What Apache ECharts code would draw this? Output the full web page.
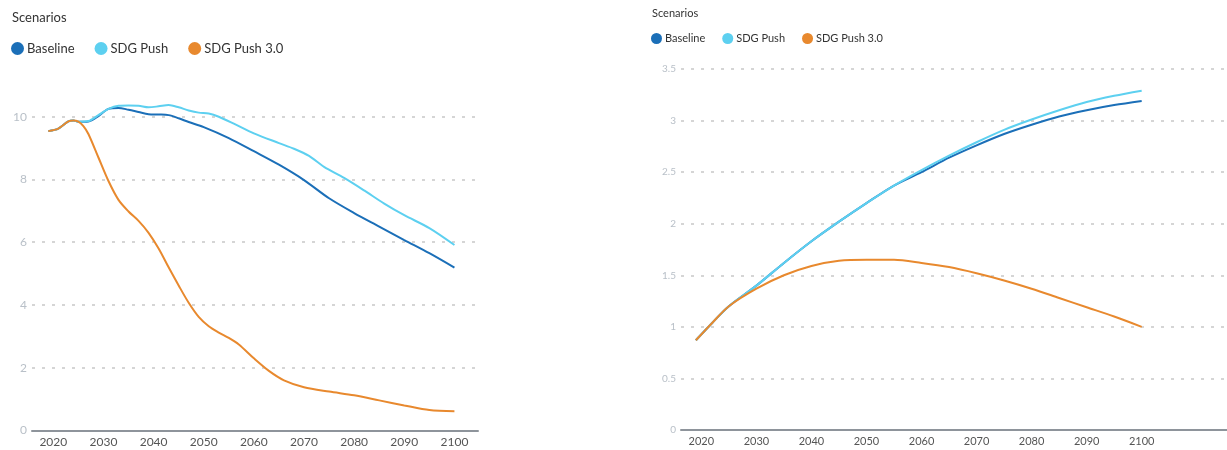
<!DOCTYPE html>
<html>
<head>
<meta charset="utf-8">
<script src="https://cdn.jsdelivr.net/npm/echarts@6/dist/echarts.min.js"></script>
<style>html,body{margin:0;padding:0;background:#fff}#c{width:1227px;height:450px}</style>
</head>
<body>
<div id="c"></div>
<script>
var seriesNames = ['Baseline', 'SDG Push', 'SDG Push 3.0'];
var xTickLabels = [2020, 2030, 2040, 2050, 2060, 2070, 2080, 2090, 2100];

// Left chart
var leftBaselineYears = [2019, 2021, 2023, 2024, 2025, 2027, 2029, 2031, 2033, 2035, 2037, 2039, 2041, 2043, 2045, 2047, 2050, 2055, 2060, 2065, 2070, 2075, 2080, 2085, 2090, 2095, 2100];
var leftBaseline = [9.54, 9.62, 9.85, 9.88, 9.84, 9.85, 10.02, 10.25, 10.28, 10.22, 10.15, 10.08, 10.07, 10.05, 9.95, 9.83, 9.67, 9.32, 8.9, 8.47, 7.98, 7.4, 6.93, 6.5, 6.07, 5.65, 5.19];
var leftSdgYears = [2019, 2021, 2023, 2024, 2025, 2027, 2029, 2031, 2033, 2035, 2037, 2039, 2041, 2043, 2045, 2047, 2049, 2051, 2053, 2056, 2060, 2065, 2068, 2071, 2074, 2078, 2082, 2086, 2090, 2095, 2100];
var leftSdg = [9.54, 9.62, 9.85, 9.88, 9.84, 9.86, 10.05, 10.25, 10.35, 10.36, 10.35, 10.3, 10.33, 10.37, 10.3, 10.2, 10.13, 10.1, 10.0, 9.78, 9.47, 9.16, 8.98, 8.75, 8.4, 8.05, 7.65, 7.23, 6.86, 6.45, 5.91];
var leftSdg3Years = [2019, 2021, 2023, 2024, 2025, 2026, 2027, 2029, 2031, 2033, 2035, 2037, 2039, 2041, 2043, 2045, 2047, 2049, 2051, 2053, 2055, 2057, 2060, 2063, 2066, 2070, 2075, 2080, 2085, 2090, 2095, 2100];
var leftSdg3 = [9.54, 9.62, 9.85, 9.88, 9.84, 9.7, 9.45, 8.7, 7.95, 7.35, 6.98, 6.68, 6.3, 5.8, 5.2, 4.62, 4.07, 3.62, 3.32, 3.12, 2.95, 2.74, 2.3, 1.9, 1.6, 1.38, 1.24, 1.12, 0.96, 0.8, 0.65, 0.61];
var leftYTicks = [0, 2, 4, 6, 8, 10];

// Right chart
var rightYears = [2019, 2022, 2025, 2030, 2035, 2040, 2045, 2050, 2055, 2060, 2065, 2070, 2075, 2080, 2085, 2090, 2095, 2100];
var rightBaseline = [0.87, 1.04, 1.2, 1.4, 1.62, 1.83, 2.02, 2.2, 2.37, 2.5, 2.64, 2.76, 2.87, 2.96, 3.04, 3.1, 3.15, 3.19];
var rightSdg = [0.87, 1.04, 1.2, 1.4, 1.62, 1.83, 2.02, 2.2, 2.37, 2.52, 2.66, 2.79, 2.91, 3.01, 3.1, 3.18, 3.24, 3.29];
var rightSdg3 = [0.87, 1.04, 1.2, 1.37, 1.5, 1.59, 1.64, 1.65, 1.65, 1.62, 1.58, 1.52, 1.45, 1.37, 1.28, 1.19, 1.1, 1.0];

var colors = ['#1b6fb8', '#5dd0f0', '#e8892e'];

function pairs(xs, ys) { return xs.map(function (x, i) { return [x, ys[i]]; }); }

var chart = echarts.init(document.getElementById('c'), null, { renderer: 'canvas' });
var font = 'Lato, "Open Sans", sans-serif';

function xAxis(gi, min, max, fs) {
  return {
    type: 'value', gridIndex: gi, min: min, max: max,
    axisLine: { show: true, onZero: false, lineStyle: { color: '#8e949b', width: 2 } },
    axisTick: { show: false },
    splitLine: { show: false },
    axisLabel: { customValues: xTickLabels, formatter: function (v) { return String(Math.round(v)); },
      color: '#555', fontSize: fs, fontFamily: font, margin: 6 }
  };
}
function yAxis(gi, max, interval, fs) {
  return {
    type: 'value', gridIndex: gi, min: 0, max: max, interval: interval,
    axisLine: { show: false }, axisTick: { show: false },
    axisLabel: { color: '#b9c0c8', fontSize: fs, fontFamily: font, margin: 5 },
    splitLine: { show: true, lineStyle: { color: '#c8c8c8', type: [3, 7], width: 1.5 } }
  };
}
function line(name, gi, data, ci) {
  return {
    name: name, type: 'line', xAxisIndex: gi, yAxisIndex: gi, data: data,
    smooth: 0.3, showSymbol: false, symbol: 'none', clip: false,
    lineStyle: { color: colors[ci], width: 2 }, itemStyle: { color: colors[ci] }
  };
}

chart.setOption({
  animation: false,
  color: colors,
  title: [
    { text: 'Scenarios', left: 7, top: 6, textStyle: { fontSize: 13, fontWeight: 'normal', color: '#333', fontFamily: font } },
    { text: 'Scenarios', left: 647, top: 3, textStyle: { fontSize: 11, fontWeight: 'normal', color: '#333', fontFamily: font } }
  ],
  legend: [
    { data: seriesNames, left: 6, top: 37, icon: 'circle', itemWidth: 13, itemHeight: 13, itemGap: 20,
      textStyle: { fontSize: 13, color: '#333', fontFamily: font, padding: [0, 0, 0, -2] } },
    { data: seriesNames, left: 646, top: 28, icon: 'circle', itemWidth: 11, itemHeight: 11, itemGap: 17,
      textStyle: { fontSize: 11, color: '#333', fontFamily: font, padding: [0, 0, 0, -2] } }
  ],
  grid: [
    { left: 32, right: 749, top: 116.7, bottom: 19.5 },
    { left: 681, right: 0, top: 69, bottom: 20 }
  ],
  xAxis: [ xAxis(0, 2015.75, 2104.7, 12), xAxis(1, 2016.3, 2115.5, 11) ],
  yAxis: [ yAxis(0, leftYTicks[leftYTicks.length - 1], 2, 12), yAxis(1, 3.5, 0.5, 10) ],
  series: [
    line(seriesNames[0], 0, pairs(leftBaselineYears, leftBaseline), 0),
    line(seriesNames[1], 0, pairs(leftSdgYears, leftSdg), 1),
    line(seriesNames[2], 0, pairs(leftSdg3Years, leftSdg3), 2),
    line(seriesNames[0], 1, pairs(rightYears, rightBaseline), 0),
    line(seriesNames[1], 1, pairs(rightYears, rightSdg), 1),
    line(seriesNames[2], 1, pairs(rightYears, rightSdg3), 2)
  ]
});
</script>
</body>
</html>
